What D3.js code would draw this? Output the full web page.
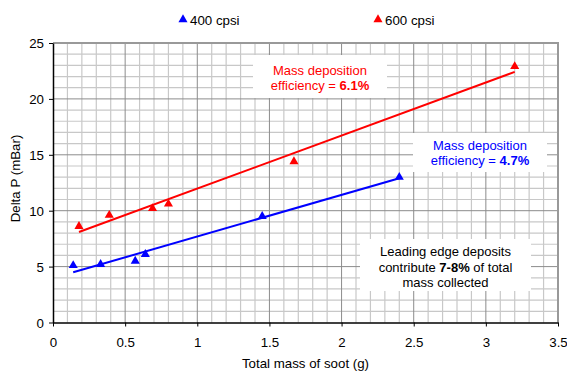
<!DOCTYPE html>
<html><head><meta charset="utf-8">
<script src="https://cdn.jsdelivr.net/npm/d3@7"></script>
<style>body{margin:0;background:#fff;}svg{display:block;font-family:"Liberation Sans",Arial,sans-serif;}</style>
</head><body>
<svg id="c" width="567" height="372"></svg>
<script>
const seriesNames = ["400 cpsi", "600 cpsi"];
const seriesColors = ["#0000ff", "#ff0000"];
const mass400 = [0.14, 0.33, 0.57, 0.64, 1.45, 2.40];
const dp400   = [5.1, 5.2, 5.5, 6.1, 9.5, 13.0];
const mass600 = [0.18, 0.39, 0.69, 0.80, 1.67, 3.20];
const dp600   = [8.6, 9.6, 10.2, 10.6, 14.4, 22.9];
const xTicks = [0, 0.5, 1, 1.5, 2, 2.5, 3, 3.5];
const yTicks = [0, 5, 10, 15, 20, 25];
const xLabel = "Total mass of soot (g)";
const yLabel = "Delta P (mBar)";
const notes = [
  {lines:[["Mass deposition"],["efficiency = ", "6.1%"]], color:"#ff0000", box:[253,55,134,43], base:[74.5,89.5]},
  {lines:[["Mass deposition"],["efficiency = ", "4.7%"]], color:"#0000ff", box:[413,133,134,39], base:[149.5,165]},
  {lines:[["Leading edge deposits"],["contribute ", "7-8%", " of total"],["mass collected"]], color:"#000000", box:[360,239,171,52], base:[256,271.5,287]}
];

const FS = "13.3px";
const svg = d3.select("#c");
const L=53, T=43, R=558, B=322.5;
const x = d3.scaleLinear().domain([0,3.5]).range([L,R]);
const y = d3.scaleLinear().domain([0,25]).range([B,T]);

const g = svg.append("g");
// minor grid
d3.range(1,35).forEach(i=>{ const v=i/10; if(i%5!==0) g.append("line").attr("x1",x(v)).attr("x2",x(v)).attr("y1",T).attr("y2",B).attr("stroke","#c8c8c8").attr("stroke-width",1.2);});
d3.range(1,25).forEach(v=>{ if(v%5!==0) g.append("line").attr("x1",L).attr("x2",R).attr("y1",y(v)).attr("y2",y(v)).attr("stroke","#c8c8c8").attr("stroke-width",1.2);});
// major grid
xTicks.slice(1,-1).forEach(v=>g.append("line").attr("x1",x(v)).attr("x2",x(v)).attr("y1",T).attr("y2",B).attr("stroke","#8c8c8c").attr("stroke-width",1));
yTicks.slice(1,-1).forEach(v=>g.append("line").attr("x1",L).attr("x2",R).attr("y1",y(v)).attr("y2",y(v)).attr("stroke","#8c8c8c").attr("stroke-width",1));
// border
g.append("path").attr("d",`M${L},${T}H${R}V${B}`).attr("fill","none").attr("stroke","#999").attr("stroke-width",2);

// axes
const xa = svg.append("g").attr("transform",`translate(0,${B})`).call(d3.axisBottom(x).tickValues(xTicks).tickSize(4).tickSizeOuter(0).tickFormat(d3.format("")));
const ya = svg.append("g").attr("transform",`translate(${L},0)`).call(d3.axisLeft(y).tickValues(yTicks).tickSize(4).tickSizeOuter(0));
[xa,ya].forEach(a=>{a.select(".domain").attr("stroke","#000").attr("stroke-width",1.5);a.selectAll(".tick line").attr("stroke","#000");a.selectAll("text").attr("font-size",FS).attr("font-family","Liberation Sans, Arial, sans-serif").attr("fill","#000");});
xa.selectAll("text").attr("dy","0").attr("y",24.5);
ya.selectAll("text").attr("x",-9).attr("dy","0.36em");

svg.append("text").attr("x",(L+R)/2).attr("y",367.5).attr("text-anchor","middle").attr("font-size",FS).text(xLabel);
svg.append("text").attr("transform",`translate(20,178.5) rotate(-90)`).attr("text-anchor","middle").attr("font-size",FS).text(yLabel);

// regression lines
function fit(xs, ys){
  const mx=d3.mean(xs), my=d3.mean(ys);
  const sxy=d3.sum(xs,(v,i)=>(v-mx)*(ys[i]-my)), sxx=d3.sum(xs,v=>(v-mx)*(v-mx));
  const b=sxy/sxx; return {b, a:my-b*mx};
}
const series = [[mass400,dp400],[mass600,dp600]];
const tri = d3.symbol().type(d3.symbolTriangle).size(36);
series.forEach(([xs,ys],k)=>{
  const f=fit(xs,ys), x0=d3.min(xs), x1=d3.max(xs);
  svg.append("line").attr("x1",x(x0)).attr("y1",y(f.a+f.b*x0)).attr("x2",x(x1)).attr("y2",y(f.a+f.b*x1)).attr("stroke",seriesColors[k]).attr("stroke-width",2);
});
series.forEach(([xs,ys],k)=>{
  svg.append("g").selectAll("path").data(xs).join("path")
    .attr("d",tri).attr("transform",(d,i)=>`translate(${x(d)},${y(ys[i])})`).attr("fill",seriesColors[k]);
});

// legend
const legX=[183,378];
seriesNames.forEach((n,k)=>{
  svg.append("path").attr("d",tri).attr("transform",`translate(${legX[k]},${19.5})`).attr("fill",seriesColors[k]);
  svg.append("text").attr("x",legX[k]+7).attr("y",24.5).attr("font-size",FS).text(n);
});

// notes
notes.forEach(n=>{
  svg.append("rect").attr("x",n.box[0]).attr("y",n.box[1]).attr("width",n.box[2]).attr("height",n.box[3]).attr("fill","#fff");
  const cx = n.box[0]+n.box[2]/2;
  n.lines.forEach((ln,i)=>{
    const t = svg.append("text").attr("x",cx).attr("y",n.base[i]).attr("text-anchor","middle").attr("font-size","13px").attr("fill",n.color);
    ln.forEach((s,j)=>t.append("tspan").attr("font-weight",j===1?"bold":"normal").text(s));
  });
});
</script>
</body></html>
